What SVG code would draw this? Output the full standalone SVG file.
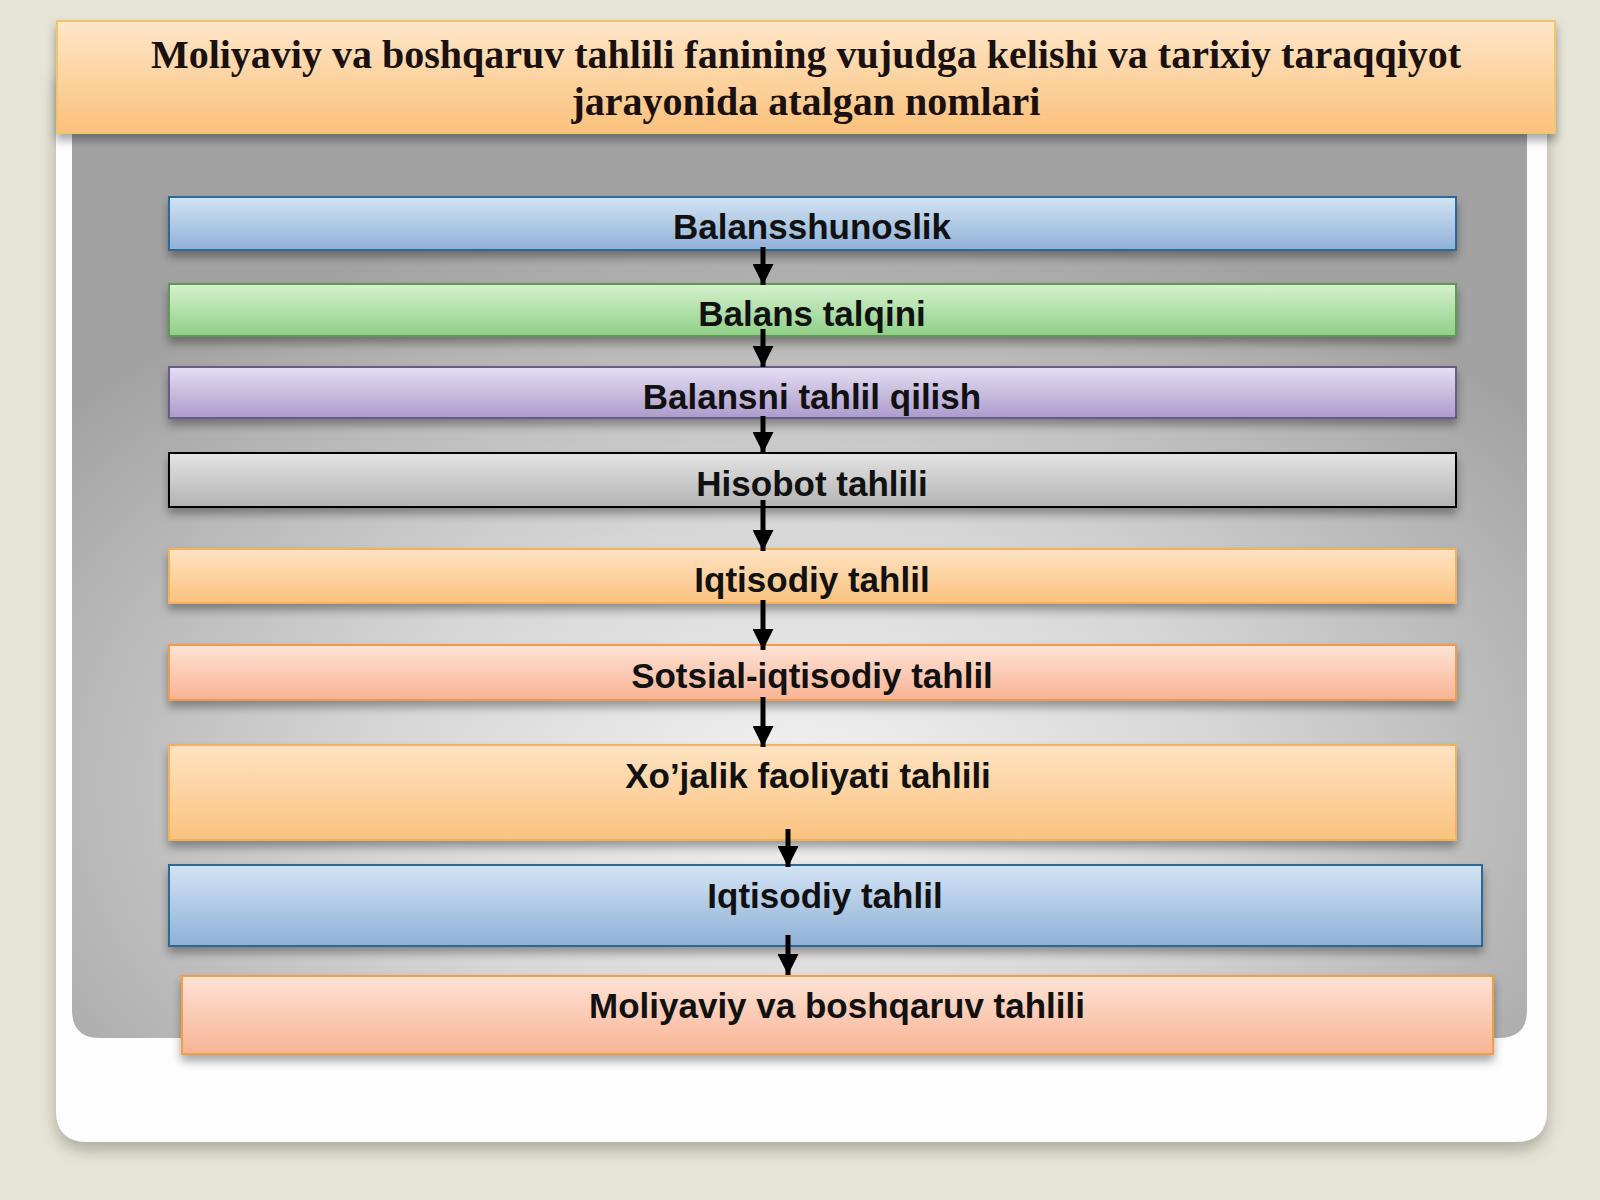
<svg xmlns="http://www.w3.org/2000/svg" width="1600" height="1200" viewBox="0 0 1600 1200">
<defs>
<linearGradient id="gBlue" x1="0" y1="0" x2="0" y2="1"><stop offset="0" stop-color="#d2e4f4"/><stop offset="1" stop-color="#8fb0d6"/></linearGradient>
<linearGradient id="gGreen" x1="0" y1="0" x2="0" y2="1"><stop offset="0" stop-color="#d6f1cf"/><stop offset="1" stop-color="#8fcf87"/></linearGradient>
<linearGradient id="gPurple" x1="0" y1="0" x2="0" y2="1"><stop offset="0" stop-color="#e6def2"/><stop offset="1" stop-color="#ab9bcb"/></linearGradient>
<linearGradient id="gGray" x1="0" y1="0" x2="0" y2="1"><stop offset="0" stop-color="#e4e4e4"/><stop offset="1" stop-color="#b3b3b3"/></linearGradient>
<linearGradient id="gOrange" x1="0" y1="0" x2="0" y2="1"><stop offset="0" stop-color="#fee3c2"/><stop offset="1" stop-color="#fbc27f"/></linearGradient>
<linearGradient id="gSalmon" x1="0" y1="0" x2="0" y2="1"><stop offset="0" stop-color="#fde3d6"/><stop offset="1" stop-color="#f8b395"/></linearGradient>
<linearGradient id="gTitle" x1="0" y1="0" x2="0" y2="1"><stop offset="0" stop-color="#fde6c8"/><stop offset="1" stop-color="#fbc17c"/></linearGradient>
<radialGradient id="gPanel" cx="0.5" cy="0.72" r="0.65" fx="0.5" fy="0.72"><stop offset="0" stop-color="#f2f2f2"/><stop offset="0.45" stop-color="#d6d6d6"/><stop offset="1" stop-color="#a2a2a2"/></radialGradient>
<filter id="sh" x="-5%" y="-30%" width="110%" height="180%"><feDropShadow dx="0" dy="6" stdDeviation="5" flood-color="#000" flood-opacity="0.35"/></filter>
<filter id="shBig" x="-5%" y="-5%" width="110%" height="115%"><feDropShadow dx="0" dy="8" stdDeviation="8" flood-color="#000" flood-opacity="0.25"/></filter>
<marker id="ah" viewBox="0 0 10 10" refX="10" refY="5" markerWidth="4.2" markerHeight="4.2" markerUnits="strokeWidth" orient="auto"><path d="M0,0 L10,5 L0,10 z" fill="#000"/></marker>
</defs>
<style>
.lbl{font-family:"Liberation Sans",Arial,sans-serif;font-weight:bold;font-size:35px;fill:#111;text-anchor:middle}
.ttl{font-family:"Liberation Serif","Times New Roman",serif;font-weight:bold;font-size:40px;fill:#1a1010;text-anchor:middle}
.arr{stroke:#000;stroke-width:5;fill:none;marker-end:url(#ah)}
</style>
<rect x="0" y="0" width="1600" height="1200" fill="#e6e4d6"/>
<g id="background">
<path d="M56,70 H1547 V1110 Q1547,1142 1515,1142 H88 Q56,1142 56,1110 Z" fill="#fdfdfd" filter="url(#shBig)"/>
<path d="M72,133 H1527 V1010 Q1527,1038 1499,1038 H100 Q72,1038 72,1010 Z" fill="url(#gPanel)"/>
</g>
<g id="title">
<rect x="57" y="21" width="1498" height="112" fill="url(#gTitle)" stroke="#f3c467" stroke-width="2" filter="url(#sh)"/>
<text class="ttl" x="806" y="68">Moliyaviy va boshqaruv tahlili fanining vujudga kelishi va tarixiy taraqqiyot</text>
<text class="ttl" x="806" y="115">jarayonida atalgan nomlari</text>
</g>
<g id="n1"><rect x="169" y="197" width="1287" height="53" fill="url(#gBlue)" stroke="#2a6b94" stroke-width="2" filter="url(#sh)"/><text class="lbl" x="812" y="239">Balansshunoslik</text></g>
<g id="n2"><rect x="169" y="284" width="1287" height="52" fill="url(#gGreen)" stroke="#5f9a55" stroke-width="2" filter="url(#sh)"/><text class="lbl" x="812" y="326">Balans talqini</text></g>
<g id="n3"><rect x="169" y="367" width="1287" height="51" fill="url(#gPurple)" stroke="#6a5b86" stroke-width="2" filter="url(#sh)"/><text class="lbl" x="812" y="409">Balansni tahlil qilish</text></g>
<g id="n4"><rect x="169" y="453" width="1287" height="54" fill="url(#gGray)" stroke="#000" stroke-width="2" filter="url(#sh)"/><text class="lbl" x="812" y="496">Hisobot tahlili</text></g>
<g id="n5"><rect x="169" y="549" width="1287" height="54" fill="url(#gOrange)" stroke="#f3b25a" stroke-width="2" filter="url(#sh)"/><text class="lbl" x="812" y="592">Iqtisodiy tahlil</text></g>
<g id="n6"><rect x="169" y="645" width="1287" height="55" fill="url(#gSalmon)" stroke="#f29a45" stroke-width="2" filter="url(#sh)"/><text class="lbl" x="812" y="688">Sotsial-iqtisodiy tahlil</text></g>
<g id="n7"><rect x="169" y="745" width="1287" height="95" fill="url(#gOrange)" stroke="#f3b25a" stroke-width="2" filter="url(#sh)"/><text class="lbl" x="808" y="788">Xo’jalik faoliyati tahlili</text></g>
<g id="n8"><rect x="169" y="865" width="1313" height="81" fill="url(#gBlue)" stroke="#2a6b94" stroke-width="2" filter="url(#sh)"/><text class="lbl" x="825" y="908">Iqtisodiy tahlil</text></g>
<g id="n9"><rect x="182" y="976" width="1311" height="78" fill="url(#gSalmon)" stroke="#f0a040" stroke-width="2" filter="url(#sh)"/><text class="lbl" x="837" y="1018">Moliyaviy va boshqaruv tahlili</text></g>
<g id="connectors">
<line class="arr" x1="763" y1="247" x2="763" y2="285"/>
<line class="arr" x1="763" y1="329" x2="763" y2="367"/>
<line class="arr" x1="763" y1="416" x2="763" y2="453"/>
<line class="arr" x1="763" y1="500" x2="763" y2="551"/>
<line class="arr" x1="763" y1="600" x2="763" y2="650"/>
<line class="arr" x1="763" y1="697" x2="763" y2="747"/>
<line class="arr" x1="788" y1="829" x2="788" y2="867"/>
<line class="arr" x1="788" y1="935" x2="788" y2="975"/>
</g>
</svg>
